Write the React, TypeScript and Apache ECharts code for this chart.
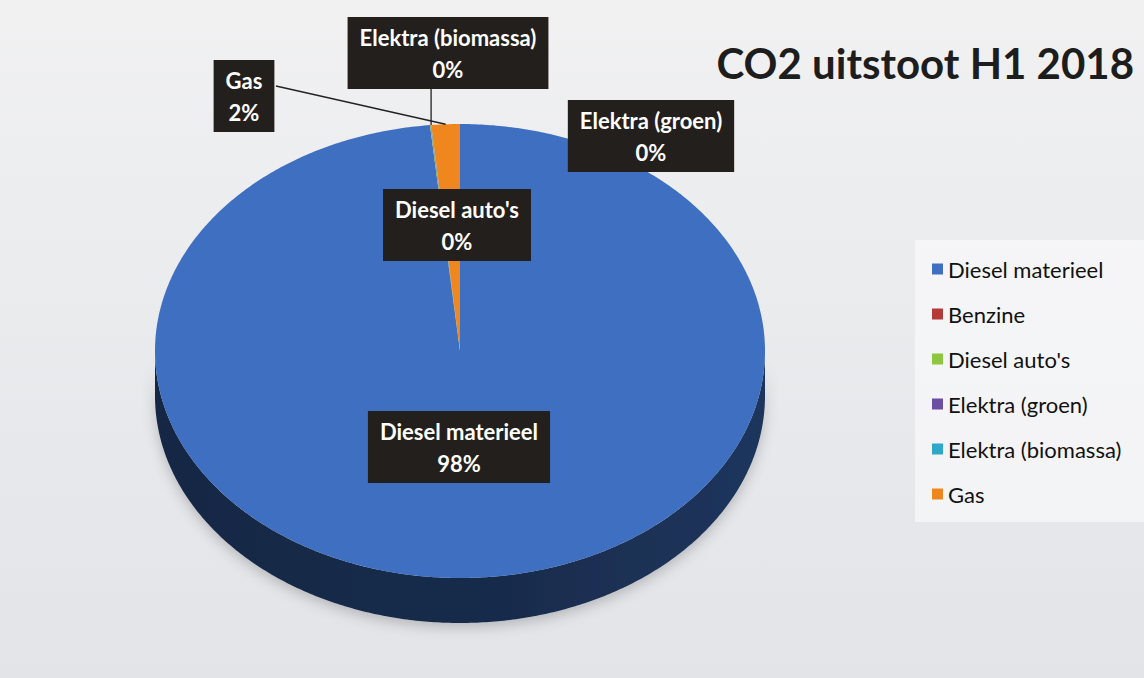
import React, { useEffect, useRef } from "react";
import * as echarts from "echarts";

// ---- data ----
const categories = ["Diesel materieel", "Benzine", "Diesel auto's", "Elektra (groen)", "Elektra (biomassa)", "Gas"];
const values = [98.4, 0, 0.03, 0.02, 0.02, 1.5];
const colors = ["#3e6fc1", "#b53b39", "#8dc63f", "#6b4fa1", "#2ea7c8", "#f0861e"];
const titleText = "CO2 uitstoot H1 2018";

// ---- layout (not data) ----
const PIE = { cx: 460, cy: 351, rx: 305, ry: 227, depth: 45 };
const labelLayout: Record<string, any> = {
  "Diesel materieel": { x: 459, y: 447 },
  "Diesel auto's": { x: 457, y: 225 },
  "Elektra (groen)": { x: 651, y: 136 },
  "Elektra (biomassa)": { x: 448, y: 53, line: "bottom", ly: 89 },
  Gas: { x: 244, y: 96, line: "right", lx: 276, ly: 86 },
};

const total = values.reduce((a, b) => a + b, 0);
const starts = values.map((_, i) => values.slice(0, i).reduce((a, b) => a + b, 0));

function darken(hex: string, f: number): string {
  const h = hex.replace("#", "");
  const r = Math.round(parseInt(h.slice(0, 2), 16) * f);
  const g = Math.round(parseInt(h.slice(2, 4), 16) * f);
  const b = Math.round(parseInt(h.slice(4, 6), 16) * f);
  return `rgb(${r},${g},${b})`;
}

function pt(t: number, dy = 0): number[] {
  return [PIE.cx + PIE.rx * Math.cos(t), PIE.cy + PIE.ry * Math.sin(t) + dy];
}

function makeRenderItem(idx: number) {
  return (params: any, api: any) => {
    const v = api.value(0);
    const children: any[] = [];
    if (!(v > 0)) return { type: "group", children };
    const a0 = -Math.PI / 2 + (2 * Math.PI * starts[idx]) / total;
    const a1 = a0 + (2 * Math.PI * v) / total;
    const color = colors[idx];
    // side wall (front half only)
    const s0 = Math.max(a0, 0);
    const s1 = Math.min(a1, Math.PI);
    if (s1 > s0) {
      const top: number[][] = [];
      const bot: number[][] = [];
      const n = Math.max(2, Math.ceil((s1 - s0) / 0.01));
      for (let k = 0; k <= n; k++) {
        const t = s0 + ((s1 - s0) * k) / n;
        top.push(pt(t));
        bot.push(pt(t, PIE.depth));
      }
      children.push({
        type: "polygon",
        z2: 0,
        shape: { points: top.concat(bot.reverse()) },
        style: {
          fill: {
            type: "linear", x: 0, y: 0, x2: 1, y2: 0,
            colorStops: [
              { offset: 0, color: darken(color, 0.36) },
              { offset: 0.5, color: darken(color, 0.38) },
              { offset: 1, color: darken(color, 0.48) },
            ],
          },
          shadowBlur: 14,
          shadowColor: "rgba(0,0,0,0.22)",
          shadowOffsetY: 4,
        },
      });
    }
    // top face
    const pts: number[][] = [[PIE.cx, PIE.cy]];
    const n2 = Math.max(2, Math.ceil((a1 - a0) / 0.01));
    for (let k = 0; k <= n2; k++) pts.push(pt(a0 + ((a1 - a0) * k) / n2));
    children.push({ type: "polygon", z2: 1, shape: { points: pts }, style: { fill: color } });

    // label
    const name = categories[idx];
    const lay = labelLayout[name];
    if (lay) {
      const mid = (a0 + a1) / 2;
      const end = pt(mid);
      if (lay.line === "bottom") {
        children.push({ type: "line", z2: 90, shape: { x1: end[0], y1: lay.ly, x2: end[0], y2: end[1] }, style: { stroke: "#222", lineWidth: 1.3 } });
      } else if (lay.line === "right") {
        children.push({ type: "line", z2: 90, shape: { x1: lay.lx, y1: lay.ly, x2: end[0], y2: end[1] }, style: { stroke: "#222", lineWidth: 1.3 } });
      }
      const pct = Math.round((v / total) * 100);
      children.push({
        type: "text",
        z2: 100,
        x: lay.x,
        y: lay.y,
        style: {
          text: name + "\n" + pct + "%",
          fill: "#ffffff",
          fontFamily: "Lato",
          fontWeight: "bold",
          fontSize: 22,
          lineHeight: 32,
          align: "center",
          verticalAlign: "middle",
          backgroundColor: "#221f1d",
          padding: [4, 12, 4, 12],
        },
      });
    }
    return { type: "group", children };
  };
}

export default function App() {
  const ref = useRef<HTMLDivElement>(null);
  useEffect(() => {
    if (!ref.current) return;
    const chart = echarts.init(ref.current, null, { renderer: "svg" });
    chart.setOption({
      animation: false,
      backgroundColor: {
        type: "linear", x: 0, y: 0, x2: 0, y2: 1,
        colorStops: [
          { offset: 0, color: "#f1f1f2" },
          { offset: 1, color: "#e2e4e8" },
        ],
      },
      title: {
        text: titleText,
        right: 5,
        top: 37,
        textStyle: { fontFamily: "Lato", fontWeight: "bold", fontSize: 42, color: "#1d1d1d" },
      },
      graphic: [
        {
          type: "rect",
          shape: { x: 915, y: 240, width: 229, height: 282 },
          style: { fill: "rgba(250,250,252,0.65)" },
          z: -1,
        },
      ],
      legend: {
        orient: "vertical",
        left: 917,
        top: 242,
        padding: [16, 12, 16, 15],
        itemWidth: 11,
        itemHeight: 11,
        itemGap: 23,
        icon: "rect",
        data: categories,
        textStyle: { fontFamily: "Lato", fontSize: 22, color: "#111" },
      },
      series: categories.map((name, i) => ({
        type: "custom",
        name,
        coordinateSystem: "none",
        data: [[values[i]]],
        itemStyle: { color: colors[i] },
        renderItem: makeRenderItem(i),
        z: 2,
      })),
    });
    return () => chart.dispose();
  }, []);
  return <div ref={ref} style={{ position: "fixed", left: 0, top: 0, width: 1144, height: 678 }} />;
}
